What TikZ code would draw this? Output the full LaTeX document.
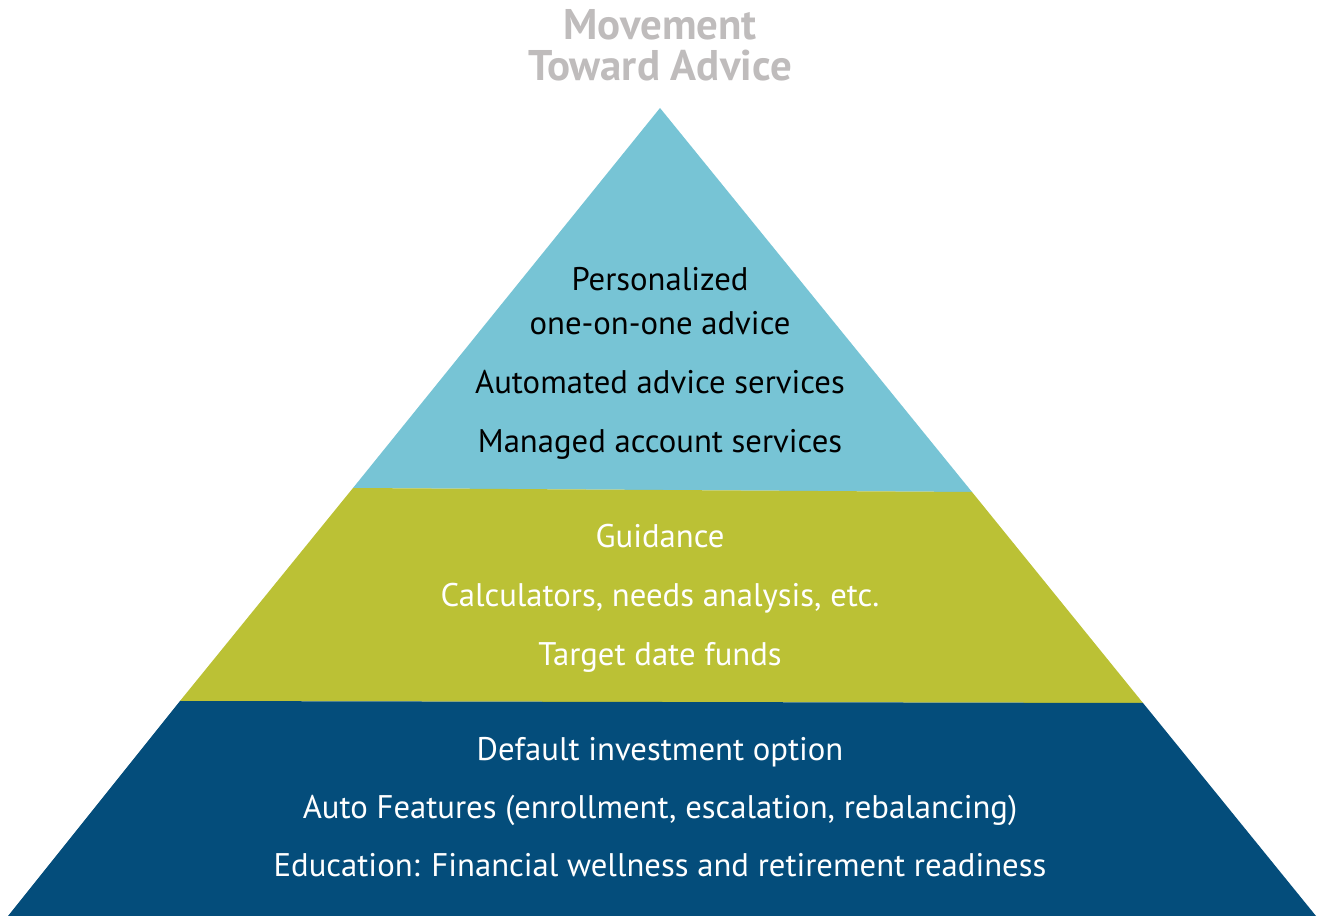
\documentclass[tikz,border=0pt]{standalone}
\usepackage{fontspec}
\setmainfont{PT Sans}
\usepackage{tikz}
\usetikzlibrary{positioning,calc}

\definecolor{topblue}{HTML}{77C4D5}
\definecolor{midolive}{HTML}{BBC135}
\definecolor{basenavy}{HTML}{044D7B}
\definecolor{titlegray}{HTML}{BFBCBC}

\begin{document}
\begin{tikzpicture}[x=0.01cm,y=-0.01cm,
  band/.style={draw=none},
  line text/.style={font=\fontsize{9.3}{11}\selectfont,inner sep=0pt,align=center,
    text height=1.6ex,text depth=0.45ex},
  dark text/.style={line text,text=black},
  light text/.style={line text,text=white},
  title text/.style={font=\fontsize{12.2}{11.6}\selectfont\bfseries,text=titlegray,
    inner sep=0pt,align=center}]
    \useasboundingbox (0,0) rectangle (1321,916);
    % pyramid bands
    \fill[band,topblue] (660,108) -- (972,492) -- (353,488) -- cycle;
    \fill[band,midolive] (353,488) -- (972,492) -- (1143,703) -- (180,701) -- cycle;
    \fill[band,basenavy] (180,701) -- (1143,703) -- (1316,916) -- (8,916) -- cycle;
    % title
    \node[title text] (T) at (660,45) {Movement\\Toward Advice};
    % top band
    \node[dark text] (A1) at (660,280) {Personalized};
    \node[dark text] (A2) at (660,324) {one-on-one advice};
    \node[dark text] (A3) at (660,383) {Automated advice services};
    \node[dark text] (A4) at (660,442) {Managed account services};
    % middle band
    \node[light text] (G1) at (660,537) {Guidance};
    \node[light text] (G2) at (660,596) {Calculators, needs analysis, etc.};
    \node[light text] (G3) at (660,655) {Target date funds};
    % bottom band
    \node[light text] (D1) at (660,750) {Default investment option};
    \node[light text] (D2) at (660,808) {Auto Features (enrollment, escalation, rebalancing)};
    \node[light text] (D3) at (660,866) {Education: Financial wellness and retirement readiness};
\end{tikzpicture}
\end{document}
